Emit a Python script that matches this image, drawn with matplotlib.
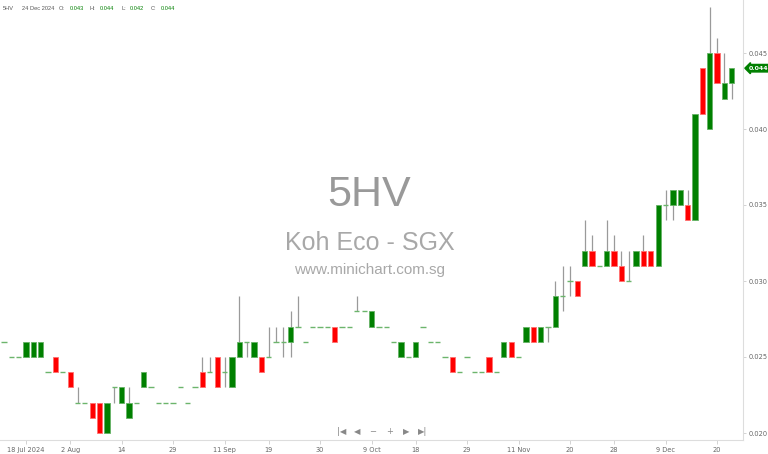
import numpy as np
import matplotlib
matplotlib.use("Agg")
import matplotlib.pyplot as plt
from matplotlib.ticker import FormatStrFormatter
import matplotlib.transforms as mtransforms

# daily OHLC (in SGD), one entry per traded session
opens = [26, 25, 25, 25, 25, 25, 24, 25, 24, 24, 22, 22, 22, 22, 20, 23, 22, 21, 22, 23,
         23, 22, 22, 22, 23, 22, 23, 24, 24, 25, 24, 23, 25, 26, 25, 25, 25, 26, 26, 26,
         27, 26, 27, 27, 27, 27, 27, 27, 28, 28, 27, 27, 27, 26, 25, 25, 25, 27, 26, 26,
         25, 25, 24, 25, 24, 24, 25, 24, 25, 26, 25, 26, 27, 26, 27, 27, 29, 30, 30, 31,
         32, 31, 31, 32, 31, 30, 31, 32, 32, 31, 35, 35, 35, 35, 34, 44, 40, 45, 42, 43]
highs = [26, 25, 25, 26, 26, 26, 24, 25, 24, 24, 23, 22, 22, 22, 22, 23, 23, 23, 22, 24,
         23, 22, 22, 22, 23, 22, 23, 25, 25, 25, 25, 25, 29, 26, 26, 25, 27, 27, 27, 28,
         29, 26, 27, 27, 27, 27, 27, 27, 29, 28, 28, 27, 27, 26, 26, 25, 26, 27, 26, 26,
         25, 25, 24, 25, 24, 24, 25, 24, 26, 26, 25, 27, 27, 27, 27, 30, 31, 31, 30, 34,
         33, 31, 34, 33, 32, 32, 32, 33, 32, 35, 36, 36, 36, 36, 41, 44, 48, 46, 45, 44]
lows = [26, 25, 25, 25, 25, 25, 24, 24, 24, 23, 22, 22, 21, 20, 20, 22, 22, 21, 22, 23,
        23, 22, 22, 22, 23, 22, 23, 23, 24, 23, 23, 23, 25, 25, 25, 24, 25, 26, 25, 25,
        27, 26, 27, 27, 27, 26, 27, 27, 28, 28, 27, 27, 27, 26, 25, 25, 25, 27, 26, 26,
        25, 24, 24, 25, 24, 24, 24, 24, 25, 25, 25, 26, 26, 26, 26, 27, 28, 29, 29, 31,
        31, 31, 31, 31, 30, 30, 31, 31, 31, 31, 34, 34, 35, 34, 34, 41, 40, 43, 42, 42]
closes = [26, 25, 25, 26, 26, 26, 24, 24, 24, 23, 22, 22, 21, 20, 22, 23, 23, 22, 22, 24,
          23, 22, 22, 22, 23, 22, 23, 23, 24, 23, 24, 25, 26, 26, 26, 24, 25, 26, 26, 27,
          27, 26, 27, 27, 27, 26, 27, 27, 28, 28, 28, 27, 27, 26, 26, 25, 26, 27, 26, 26,
          25, 24, 24, 25, 24, 24, 24, 24, 26, 25, 25, 27, 26, 27, 27, 29, 29, 30, 29, 32,
          31, 31, 32, 31, 30, 30, 32, 31, 31, 35, 35, 36, 36, 34, 41, 41, 45, 43, 43, 44]

date_idx = [3, 9, 16, 23, 30, 36, 43, 50, 56, 63, 70, 77, 83, 90, 97]
date_labels = ["18 Jul 2024", "2 Aug", "14", "29", "11 Sep", "19", "30", "9 Oct", "18",
               "29", "11 Nov", "20", "28", "9 Dec", "20"]
price_ticks = [0.020, 0.025, 0.030, 0.035, 0.040, 0.045]

o = np.array(opens) / 1000
h = np.array(highs) / 1000
l = np.array(lows) / 1000
c = np.array(closes) / 1000
x = np.arange(len(o))

GREEN = "#008000"
RED = "#ff0000"

fig = plt.figure(figsize=(7.68, 4.54), dpi=100)
ax = fig.add_axes([0, 14 / 454, 743 / 768, 440 / 454])

# wicks
ax.vlines(x, l, h, color="#9a9a9a", lw=0.9, zorder=1)

up = c > o
dn = c < o
flat = c == o
w = 0.72
ax.bar(x[up], (c - o)[up], bottom=o[up], width=w, color=GREEN, edgecolor="#66b366",
       linewidth=0.6, zorder=2)
ax.bar(x[dn], (o - c)[dn], bottom=c[dn], width=w, color=RED, edgecolor="#ff7070",
       linewidth=0.6, zorder=2)
ax.hlines(c[flat], x[flat] - w / 2, x[flat] + w / 2, color="#6cb56c", lw=1.0, zorder=2)

ax.set_xlim(-0.544, 100.54)
ax.set_ylim(0.020 - 7 / 15.2 * 0.001, 0.020 + 433 / 15.2 * 0.001)

for s in ["top", "left"]:
    ax.spines[s].set_visible(False)
ax.spines["bottom"].set_color("#dddddd")
ax.spines["right"].set_color("#dddddd")

ax.yaxis.tick_right()
ax.set_yticks(price_ticks)
ax.yaxis.set_major_formatter(FormatStrFormatter("%.3f"))
ax.set_xticks(date_idx)
ax.set_xticklabels(date_labels)
ax.tick_params(axis="both", length=3, color="#cccccc", labelsize=4.8, labelcolor="#666666",
               pad=2, width=0.6)
ax.tick_params(axis="y", pad=1.5, length=2.5)

# watermark
ax.text(369 / 768, 0.57, "5HV", transform=fig.transFigure, ha="center", va="center",
        fontsize=31, color="#999999", family="Liberation Sans", zorder=0)
ax.text(370 / 768, 0.465, "Koh Eco - SGX", transform=fig.transFigure, ha="center",
        va="center", fontsize=18, color="#a8a8a8", family="Liberation Sans", zorder=0)
ax.text(370 / 768, 0.405, "www.minichart.com.sg", transform=fig.transFigure, ha="center",
        va="center", fontsize=11, color="#a8a8a8", family="Liberation Sans", zorder=0)

# navigation buttons
for px, s in zip([342, 357, 373, 390, 406, 423], ["|◀", "◀", "−", "+", "▶", "▶|"]):
    fig.text(px / 768, 1 - 432 / 454, s, ha="center", va="center", fontsize=6,
             color="#888888")

# header
head = [(3, "5HV", "#555555"), (22, "24 Dec 2024", "#555555"), (59, "O:", "#555555"),
        (70, "0.043", GREEN), (90, "H:", "#555555"), (100, "0.044", GREEN),
        (121, "L:", "#555555"), (130, "0.042", GREEN), (151, "C:", "#555555"),
        (161, "0.044", GREEN)]
for px, s, col in head:
    fig.text(px / 768, 1 - 9 / 454, s, ha="left", va="center", fontsize=4.1, color=col,
             family="Liberation Sans")

# last price badge
trans = mtransforms.blended_transform_factory(ax.transAxes, ax.transData)
ax.text(1.008, c[-1], "%.3f" % c[-1], transform=trans, ha="left", va="center",
        fontsize=4.5, color="white", fontweight="bold", clip_on=False,
        bbox=dict(boxstyle="larrow,pad=0.2", fc=GREEN, ec=GREEN))

fig.savefig("out.png", dpi=100)
